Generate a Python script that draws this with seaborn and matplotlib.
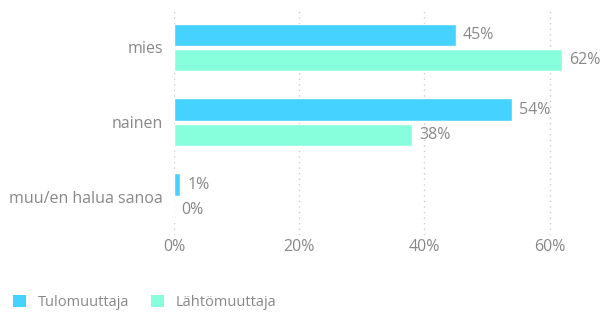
import numpy as np
import pandas as pd
import matplotlib
matplotlib.use("Agg")
import matplotlib.pyplot as plt
import seaborn as sns
from matplotlib.patches import Patch

# ----- Data -----
categories = ["mies", "nainen", "muu/en halua sanoa"]
series_names = ["Tulomuuttaja", "Lähtömuuttaja"]
tulo_values = [45, 54, 1]
lahto_values = [62, 38, 0]
x_ticks = [0, 20, 40, 60]

colors = ["#45D2FE", "#88FFDC"]
text_color = "#888888"

df = pd.DataFrame({
    "category": categories * 2,
    "series": [series_names[0]] * 3 + [series_names[1]] * 3,
    "value": tulo_values + lahto_values,
})

sns.set_style("white")
plt.rcParams["font.family"] = ["Open Sans", "DejaVu Sans"]

fig = plt.figure(figsize=(6.04, 3.12), dpi=100)
ax = fig.add_axes([0.288, 0.247, 0.674, 0.721])

sns.barplot(data=df, y="category", x="value", hue="series", order=categories,
            hue_order=series_names, palette=colors, saturation=1, width=0.68, gap=0.12,
            orient="h", ax=ax, legend=False, errorbar=None)

for container in ax.containers:
    ax.bar_label(container, labels=[f"{int(v)}%" for v in container.datavalues],
                 padding=5, color=text_color, fontsize=11.5)

ax.set_xlim(0, 65)
ax.set_ylim(2.5, -0.5)
ax.set_xticks(x_ticks)
ax.set_xticklabels([f"{t}%" for t in x_ticks])
ax.set_xlabel("")
ax.set_ylabel("")
ax.tick_params(axis="both", length=0, labelsize=11.5, labelcolor=text_color)
ax.tick_params(axis="y", pad=8)
ax.tick_params(axis="x", pad=3)
ax.grid(axis="x", linestyle=(0, (1, 3)), color="#cccccc", linewidth=1)
ax.set_axisbelow(True)
sns.despine(ax=ax, left=True, bottom=True)

handles = [Patch(facecolor=c, edgecolor="none") for c in colors]
fig.legend(handles, series_names, loc="lower left", bbox_to_anchor=(0.0, -0.035),
           ncol=2, frameon=False, fontsize=10.5, labelcolor=text_color,
           handlelength=0.9, handleheight=0.9, columnspacing=1.5, handletextpad=0.8)

fig.savefig("out.png", dpi=100)
